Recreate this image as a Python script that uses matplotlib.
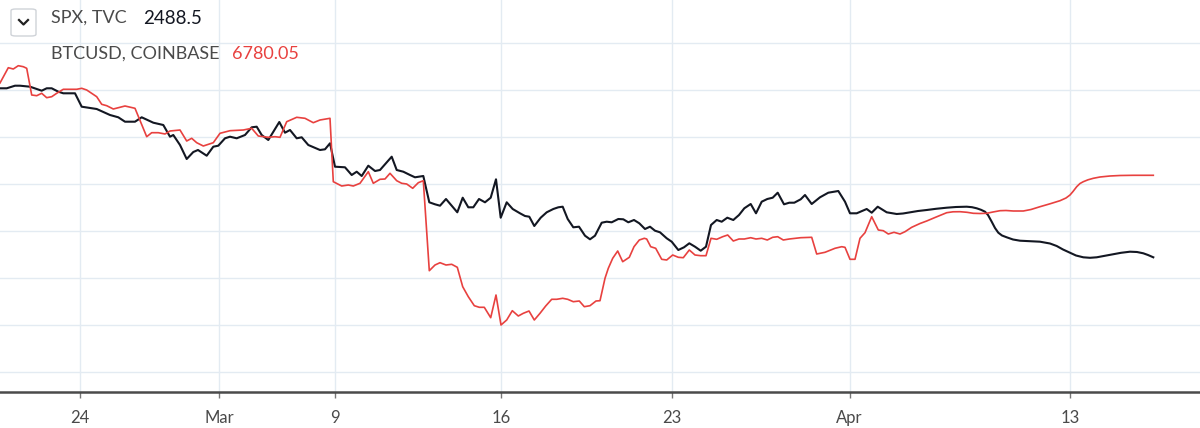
import matplotlib
import matplotlib.pyplot as plt
from matplotlib.ticker import MultipleLocator, FixedLocator
from matplotlib.lines import Line2D
from matplotlib.patches import FancyBboxPatch
matplotlib.use('Agg')

# bar index positions on the time scale (TradingView style index axis)
tick_pos = [80, 219, 335, 501, 672, 849.5, 1070]
tick_labels = ['24', 'Mar', '9', '16', '23', 'Apr', '13']

# SPX (black) - relative level, 47 units per grid step
spx_t = [0, 6.7, 15, 20, 30, 41.7, 46.7, 51.7, 58.3, 63.3, 75, 81.7, 88.3, 96.7, 110, 118.3, 125, 135,
         141.7, 153.3, 163.3, 170, 173.3, 180, 186.7, 193.3, 198, 206.7, 213.3, 218.3, 225, 230, 236.7,
         245, 251.7, 256.7, 261.7, 268.3, 279.3, 285, 290, 296.7, 301.7, 308.3, 320, 325, 330, 335, 345,
         351.7, 356.7, 361.7, 368.3, 375, 380, 391.7, 396.7, 403.3, 410, 415, 423.3, 429.3, 435, 440, 446,
         451.7, 457.3, 462.7, 468.3, 473.3, 479, 485, 490.7, 496, 500.7, 506.7, 512.7, 520, 525, 529.3,
         534.3, 540.7, 546.7, 553.3, 558.3, 562.7, 567.7, 573.3, 579, 585, 590, 595, 601.7, 606.7, 611.7,
         618.3, 623.3, 628.3, 634, 639.3, 645, 650, 655, 660, 666.7, 671.7, 678.3, 684, 689.3, 695, 700.7,
         706, 711, 716.7, 721.7, 727.3, 733.3, 739, 744.3, 750.7, 756, 761.7, 767.3, 772.7, 777.7, 784,
         789.3, 794.3, 800.7, 805, 811.7, 820, 828.3, 838.3, 845, 850, 856.7, 866.7, 871.7, 877.7, 886.7,
         896.7, 903, 910, 918, 926.7, 936, 946.7, 956, 966.7, 972, 976.7, 981, 985, 988, 991.7, 995, 998.3,
         1002, 1006.7, 1013, 1020, 1030, 1040, 1050, 1056.7, 1063, 1070, 1076, 1083.3, 1090, 1096.7, 1105,
         1113.3, 1121, 1130, 1137, 1143.3, 1148, 1153.3]
spx_v = [1.7, 1.7, 4.3, 4.3, 3.3, -0.7, 1.7, 1.7, -1.7, -3.3, -3.3, -16.7, -17.7, -19, -25, -27.3, -31.7, -31.7,
         -27.3, -32.7, -35, -46.7, -45, -55, -69, -62, -60, -65.7, -56.7, -55.7, -48.3, -46.7, -48.3,
         -45, -37.3, -36.7, -45, -50, -32, -42.7, -40, -48.3, -47.3, -55, -60, -59.3, -53.3, -76.7, -77.3,
         -85, -81.7, -86, -75.7, -81, -80, -66.7, -80, -81.7, -85, -87.3, -86, -112.3, -114.3, -115.7, -109,
         -115.7, -122.3, -107.7, -117.3, -117.3, -109, -112.3, -107.7, -89.3, -127.7, -112.3, -119, -123.3, -126, -126.7,
         -136, -127.7, -122.3, -119, -117.3, -116.7, -129, -137.3, -136.7, -145.7, -149.3, -145.7, -132.7, -131.7, -132.3,
         -129, -129.3, -132.3, -130, -133.3, -139, -136.7, -140.7, -142.3, -148.3, -151.7, -160, -157.3, -153.3, -156.7, -160.7,
         -156.7, -135, -130, -131.7, -127.7, -130, -125, -118.3, -114, -123.3, -111.7, -109, -107.7, -102.7, -114.3,
         -112.7, -112.7, -109.3, -105, -114, -107.3, -102.7, -101, -111.7, -123.3, -123.3, -119, -122.7, -116.7, -122.3,
         -124, -123.5, -122.3, -121, -120, -118.8, -117.7, -117, -116.7, -117.2, -118.3, -119.8, -121.7, -125, -131.7, -138, -142.7,
         -145.5, -147.3, -149.5, -150.7, -151.2, -151.7, -153.5, -156, -159.5, -162.7, -165.5, -167.3, -167.8, -167.3, -165.8,
         -164.3, -162.8, -161.7, -162, -163.3, -165, -167.3]

# BTCUSD (red) - same relative scale
btc_t = [0, 8.3, 13.3, 18.3, 23.3, 26.7, 31.7, 36.7, 41.7, 46.7, 51.7, 56.7, 63.3, 76.7, 81.7, 86.7, 96.7, 101.7,
         106.7, 113.3, 125, 135, 146.7, 151.7, 158.3, 165, 170, 180, 186.7, 191.7, 196.7, 203.3, 213.3, 220,
         230, 243.3, 251.7, 258.3, 268.3, 275, 280, 286.7, 296.7, 305, 313.3, 320, 330, 333.3, 341.7, 348.3,
         353.3, 360, 368.3, 373.3, 380, 385, 390, 396.7, 401.7, 406.7, 412.7, 418.3, 423.3, 429.3, 435, 440,
         446, 451.7, 457.3, 462.7, 468.3, 474.3, 479.3, 484.3, 490.7, 496, 501, 506.7, 512.3, 518.3, 523.3,
         529, 534.3, 540, 545.7, 551.7, 556.7, 562.7, 567.7, 573.3, 579.3, 584.3, 590, 596, 600, 605, 608.3,
         612.7, 617.7, 622.7, 629.3, 634, 639.3, 644.3, 646.7, 650.7, 655.7, 661.7, 666.7, 672.7, 678.3, 683.3,
         689.3, 695, 700.7, 706, 711, 716.7, 722.7, 727.7, 733.3, 739, 744.3, 750.7, 756, 761.7, 767.3, 772.7,
         777.7, 783.3, 789.3, 795, 800.7, 811.7, 816.7, 825, 835, 841.7, 845, 850, 855, 860, 865, 871.7, 878.3,
         883.3, 888.3, 894, 900, 905, 911.7, 920, 926.7, 935, 946.7, 953, 960, 967, 973.3, 980, 986.7, 993, 1000,
         1006, 1013.3, 1023.3, 1031, 1040, 1050, 1060, 1066, 1070, 1073, 1076.7, 1080, 1083.3, 1088, 1093.3,
         1100, 1110, 1120, 1133.3, 1153.3]
btc_v = [7, 22.3, 21, 24.3, 23.3, 21.7, -5, -5.7, -3.3, -7.7, -6.7, -3.3, 0.7, 0.7, 1.7, 0, -6.7, -14.3,
         -15.7, -19, -16, -18.3, -46.7, -42.7, -42.7, -44, -41, -40, -51, -48.3, -52.7, -56, -52.7, -43.3,
         -40.7, -40, -38.3, -46, -47.3, -46.7, -47.3, -31.7, -27.3, -28.3, -32.7, -30, -28.3, -91.7, -96, -95,
         -96, -93.3, -81.7, -93.3, -89.3, -89, -83.3, -90.7, -93.3, -94, -98.3, -92.7, -90.7, -180.7, -175, -172.7,
         -175, -174.3, -177.3, -196.7, -206.7, -215.7, -217.3, -217.3, -227.7, -205, -235, -230, -220.7, -226, -223.3,
         -221, -230, -223.3, -216, -209.3, -209.3, -208.3, -209.3, -211.7, -211, -216.7, -215.7, -211, -210.7, -188.3, -178.3,
         -168.3, -161, -171.7, -167.3, -156.7, -150, -148.3, -149, -156.7, -158.3, -169.3, -170, -165, -167.3, -167.7,
         -160, -165, -165.7, -165.7, -148.3, -149.3, -146.7, -145, -151, -149, -149, -147.7, -149, -148.3, -150, -147.3,
         -146.7, -150, -149, -148.3, -147.7, -147.3, -164, -162.3, -158.3, -156.7, -157.3, -169.3, -169.3, -148.3, -142.7, -126.7, -140,
         -140.7, -144, -142.3, -144, -141.7, -137.3, -133.5, -131, -127.5, -122.7, -121.8, -121.7, -122.3, -123.3, -123.5, -123.3, -122, -120.7,
         -120.5, -121, -121, -119.5, -116.7, -113.8, -110.7, -108, -105, -101.5, -96.7, -93.5, -91.7, -89.8, -88.3,
         -87, -86, -85.5, -85.3, -85.3]

plt.rcParams['font.family'] = ['Lato', 'DejaVu Sans']

fig = plt.figure(figsize=(12, 4.28), dpi=100)
ax = fig.add_axes([0, 36 / 428, 1, 392 / 428])

ax.plot(spx_t, spx_v, color='#131722', lw=1.5)
ax.plot(btc_t, btc_v, color='#e8413f', lw=1.2)

ax.set_xlim(0, 1200)
ax.set_ylim(-302, 90)

# grid like the tradingview pane
ax.yaxis.set_major_locator(MultipleLocator(47))
ax.xaxis.set_major_locator(FixedLocator(tick_pos))
ax.set_xticklabels(tick_labels)
ax.grid(True, color='#e3ebf2', lw=1)
ax.set_axisbelow(True)

for s in ['top', 'right', 'left']:
    ax.spines[s].set_visible(False)
ax.spines['bottom'].set_color('#4a4a4a')
ax.spines['bottom'].set_linewidth(1.8)
ax.tick_params(axis='y', left=False, labelleft=False)
ax.tick_params(axis='x', length=4, width=1, color='#777777', pad=9,
               labelsize=12, labelcolor='#4a4a4a')

# legend block top left
box = FancyBboxPatch((11 / 1200, 1 - 36 / 428), 25 / 1200, 27 / 428,
                     boxstyle='round,pad=0,rounding_size=0.004', transform=fig.transFigure,
                     facecolor='white', edgecolor='#cfd3d8', lw=1)
fig.patches.append(box)
fig.add_artist(Line2D([19 / 1200, 23.5 / 1200, 28 / 1200],
                      [1 - 20 / 428, 1 - 24.5 / 428, 1 - 20 / 428],
                      transform=fig.transFigure, color='#222222', lw=1.6))

fig.text(51 / 1200, 1 - 18 / 428, 'SPX, TVC', fontsize=13, color='#4a4a4a', va='center')
fig.text(143 / 1200, 1 - 18 / 428, '2488.5', fontsize=13.5, color='#131722', va='center')
fig.text(51 / 1200, 1 - 54 / 428, 'BTCUSD, COINBASE', fontsize=13, color='#4a4a4a', va='center')
fig.text(232 / 1200, 1 - 54 / 428, '6780.05', fontsize=13, color='#e8413f', va='center')

fig.savefig('out.png', dpi=100)
